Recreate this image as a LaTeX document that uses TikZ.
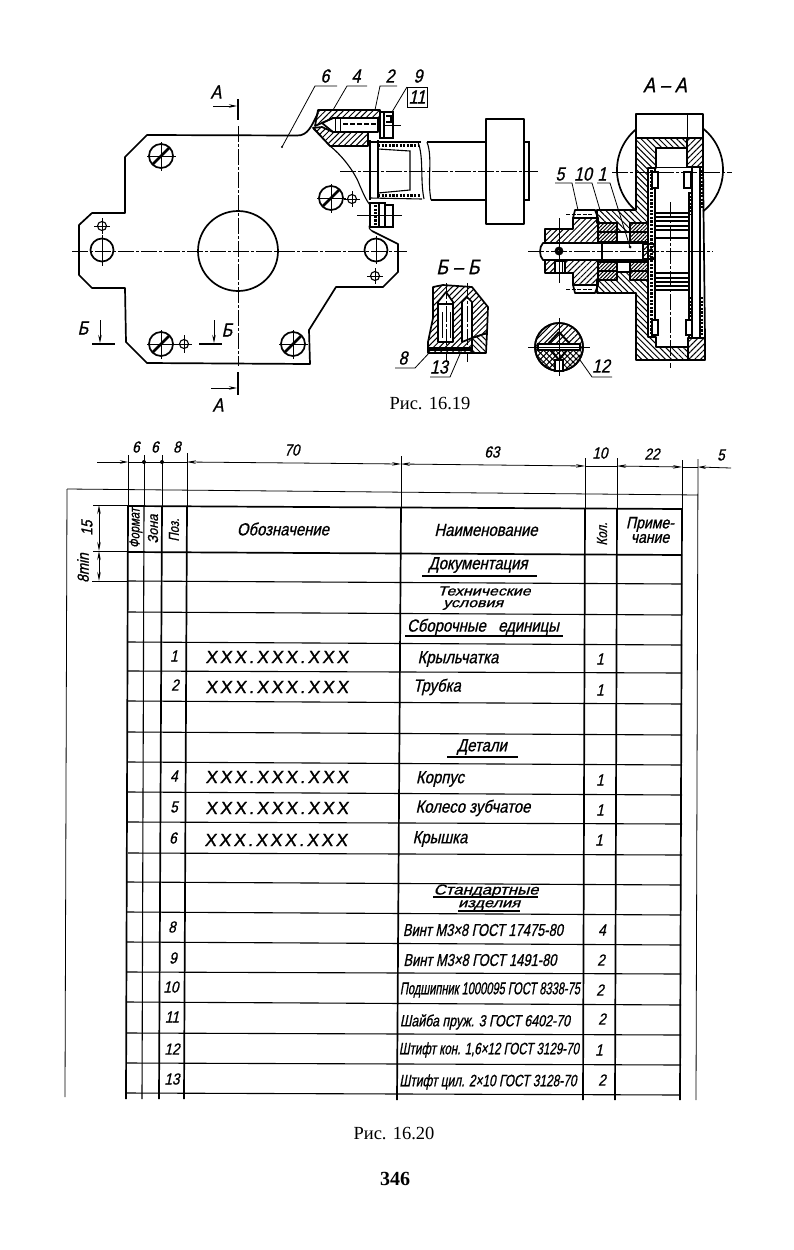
\documentclass[tikz,border=0pt]{standalone}
\usepackage{fontspec}
\usepackage{tikz}
\usetikzlibrary{arrows.meta,patterns.meta}
\setmainfont{Liberation Serif}
\newfontfamily\drawfont[FakeStretch=0.85,FakeSlant=0.22,FakeBold=0.9]{Liberation Sans}
\newfontfamily\xxxfont[LetterSpace=16,FakeSlant=0.12,FakeBold=1.3]{Liberation Sans}
\newcommand{\specline}[2]{\resizebox{#1pt}{12pt}{#2}}

\begin{document}
\begin{tikzpicture}[
    x=1pt, y=-1pt,
    outline/.style = {line width=1.7pt, line join=round},
    medline/.style = {line width=1.1pt},
    thinline/.style = {line width=0.8pt},
    centerline/.style = {line width=0.8pt, dash pattern=on 16pt off 2pt on 3pt off 2pt},
    cutmark/.style = {line width=2.6pt},
    slot/.style = {line width=2.8pt},
    arrow/.style = {-{Stealth[length=8pt,width=3.5pt]}, line width=0.8pt},
    dimline/.style = {{Stealth[length=9pt,width=3.5pt]}-{Stealth[length=9pt,width=3.5pt]}, line width=0.8pt},
    hatchl/.style = {pattern={Lines[angle=-45,distance=4.2pt,line width=1pt]}},
    hatchr/.style = {pattern={Lines[angle=45,distance=4.2pt,line width=1pt]}},
    hatchfine/.style = {pattern={Lines[angle=45,distance=2.6pt,line width=1pt]}},
    dotband/.style = {line width=3pt, dash pattern=on 2.2pt off 1.4pt},
    lab/.style = {font=\drawfont\fontsize{19}{19}\selectfont, inner sep=0pt},
    cell/.style = {font=\drawfont\fontsize{17.5}{17.5}\selectfont, inner sep=0pt},
    num/.style = {font=\drawfont\fontsize{16}{16}\selectfont, inner sep=0pt},
    xxx/.style = {font=\xxxfont\fontsize{17.5}{17.5}\selectfont, inner sep=0pt},
    caption/.style = {font=\fontsize{18.5}{18.5}\selectfont, inner sep=0pt}
]
\useasboundingbox (0,0) rectangle (794,1250);

% Plate outline
\draw[outline] (297,135.5) -- (147,135) -- (125,157) -- (125,213) -- (92,213) -- (79,225) -- (79,275) -- (92,288) -- (125,288) -- (126,342) -- (147,363) -- (310,364) -- (309,330) -- (336,287) -- (383,287) -- (398,272) -- (398,244) -- (372,231);
\draw[outline] (297,135.5) .. controls (308,136) and (312,125) .. (318,113);
\draw[medline] (313,127) -- (330,146) .. controls (345,158) and (356,175) .. (360,186) .. controls (364,195) and (366,200) .. (370,205);
\draw[medline] (370,224) .. controls (368,228) and (370,230) .. (372,231);

% Large holes
\draw[outline] (238,251) circle[radius=40];
\draw[outline] (102,250) circle[radius=11.5];
\draw[outline] (376,250) circle[radius=11.5];

% Slotted screws
\draw[outline] (161,156) circle[radius=12];
\draw[slot] (153,164) -- (169,148);
\draw[thinline] (147,156) -- (176,156) (161,142) -- (161,171);
\draw[outline] (161,344) circle[radius=12];
\draw[slot] (153,352) -- (169,336);
\draw[thinline] (147,344) -- (176,344) (161,330) -- (161,359);
\draw[outline] (293,344) circle[radius=12];
\draw[slot] (285,352) -- (301,336);
\draw[thinline] (279,344) -- (308,344) (293,330) -- (293,359);
\draw[outline] (331,198) circle[radius=12];
\draw[slot] (323,206) -- (339,190);
\draw[thinline] (317,198) -- (346,198) (331,184) -- (331,213);

% Small holes
\draw[medline] (102,226) circle[radius=4.5];
\draw[thinline] (94,226) -- (110,226) (102,218) -- (102,234);
\draw[medline] (375,276) circle[radius=4.5];
\draw[thinline] (367,276) -- (383,276) (375,268) -- (375,284);
\draw[medline] (352,199) circle[radius=4.5];
\draw[thinline] (344,199) -- (360,199) (352,191) -- (352,207);
\draw[medline] (184,344) circle[radius=4.5];
\draw[thinline] (176,344) -- (192,344) (184,335) -- (184,353);

% Center lines of the plate
\draw[centerline] (72,251) -- (407,251);
\draw[centerline] (238,126) -- (238,366);
\draw[thinline] (102,235) -- (102,266);
\draw[thinline] (376,236) -- (376,264);

% Section marks
\draw[cutmark] (238,99) -- (238,120);
\draw[cutmark] (238,372) -- (238,395);
\draw[cutmark] (92,344) -- (115,344);
\draw[cutmark] (199,344) -- (222,344);
\draw[arrow] (213,106) -- (237,106);
\draw[arrow] (211,388) -- (237,388);
\draw[arrow] (100,320) -- (100,343);
\draw[arrow] (214,320) -- (214,343);
\node[lab] (markAtop) at (216,92) {А};
\node[lab] (markAbot) at (218,405) {А};
\node[lab] (markBleft) at (83,328) {Б};
\node[lab] (markBright) at (227,330) {Б};

% Upper part of the local section
\draw[outline, hatchr] (318,110) -- (380,110) -- (380,118) -- (333,118) -- (322,123) -- (315,126) -- cycle;
\draw[outline, hatchr] (313,128) -- (322,127) -- (333,132) -- (368,132) -- (368,146) -- (330,146) -- cycle;
\draw[outline] (322,123) -- (333,118) -- (378,118) -- (378,132) -- (333,132) -- cycle;
\draw[thinline] (335,118) -- (335,132) (340,118) -- (340,132);
\draw[medline, dash pattern=on 5pt off 2pt] (343,124) -- (376,124);
\draw[medline] (380,112) rectangle (384,138);
\draw[medline] (384,112) rectangle (393,138);
\draw[thinline] (384,125) -- (401,125);
\draw[medline] (386,116) -- (391,116) -- (391,122) -- (386,122);

% Bearing cup and broken shaft
\draw[outline] (370,140) -- (370,200);
\draw[outline] (378,140) -- (378,198);
\draw[medline] (370,142) -- (421,142);
\draw[medline] (378,149) -- (410,151) -- (410,190) -- (378,193);
\draw[medline] (370,198) -- (422,199);
\draw[dotband, line width=2.2pt] (378,145.5) -- (418,145.5);
\draw[dotband, line width=2.2pt] (378,195.5) -- (420,195.5);
\draw[medline] (418,142) .. controls (424,158) and (420,180) .. (424,199);
\draw[medline] (427,142) .. controls (433,158) and (427,180) .. (431,200);
\draw[medline] (427,142) -- (486,142);
\draw[medline] (431,200) -- (486,200);
\draw[outline] (486,119) rectangle (524,224);
\draw[medline] (524,142) -- (529,142) -- (529,200) -- (524,200);
\draw[centerline] (340,171) -- (538,171);

% Lower screw of the local section
\draw[medline] (370,203) rectangle (379,227);
\draw[medline] (379,203) rectangle (385,227);
\draw[medline] (385,205) rectangle (393,227);
\draw[thinline] (357,215) -- (402,215);
\draw[dotband] (375,205) -- (375,225);

% Leaders, upper left view
\fill (282,147) circle[radius=1.2];
\draw[thinline] (282,147) -- (315,86) -- (337,86);
\draw[thinline] (333,110) -- (347,86) -- (367,86);
\draw[thinline] (375,110) -- (380,86) -- (397,86);
\draw[thinline] (392,112) -- (407,87);
\draw[thinline] (407,87) -- (427,87) -- (427,107) -- (407,107) -- cycle;
\node[lab] (pos6) at (325,76) {6};
\node[lab] (pos4) at (356,76) {4};
\node[lab] (pos2) at (390,76) {2};
\node[lab] (pos9) at (418,76) {9};
\node[lab] (pos11) at (417,97) {11};

% Section A-A, fan wheel arcs
\draw[outline] (635.9,129.4) arc[start angle=230, end angle=130, radius=53];
\draw[outline] (703,128.5) arc[start angle=-51.5, end angle=51.5, radius=53];
\node[lab, font=\drawfont\fontsize{21}{21}\selectfont] (titleAA) at (665,85) {А – А};

% Section A-A, body
\draw[outline] (636,138) -- (636,114) -- (703,114) -- (703,138);
\draw[thinline] (687,114) -- (687,138);
\draw[outline, hatchl] (636,138) -- (687,138) -- (687,148) -- (656,148) -- (656,168) -- (648,168) -- (648,223) -- (630,223) -- (630,232) -- (617,232) -- (617,223) -- (597,223) -- (597,210) -- (636,210) -- cycle;
\draw[outline, hatchr] (687,138) -- (703,138) -- (703,167) -- (687,167) -- cycle;
\draw[outline, hatchl] (597,280) -- (617,280) -- (617,272) -- (630,272) -- (630,280) -- (648,280) -- (648,337) -- (656,337) -- (656,347) -- (688,347) -- (688,360) -- (636,360) -- (636,293) -- (597,293) -- cycle;
\draw[outline, hatchr] (688,338) -- (705,338) -- (705,360) -- (688,360) -- cycle;
\draw[outline] (703,167) -- (705,338);

% Section A-A, inner strips
\draw[medline] (648,168) -- (648,337);
\draw[medline] (655,168) -- (655,337);
\draw[dotband] (651.5,170) -- (651.5,336);
\draw[medline] (689,192) -- (689,338);
\draw[medline] (692,167) -- (692,338);
\draw[medline] (700,167) -- (700,338);
\draw[dotband] (701.5,170) -- (701.5,208);
\draw[dotband] (701.5,297) -- (701.5,336);
\draw[dotband] (690.5,192) -- (690.5,215);
\draw[dotband] (690.5,297) -- (690.5,320);
\draw[medline, fill=white] (652,172) rectangle (658,188);
\draw[medline, fill=white] (652,320) rectangle (658,335);
\draw[medline, fill=white] (684,172) rectangle (691,188);
\draw[medline, fill=white] (686,320) rectangle (692,335);
\draw[thinline] (655,167) -- (703,167);

% Section A-A, gear plates
\draw[medline] (655,213) -- (688,213);
\draw[medline] (655,217) -- (688,217);
\draw[medline] (655,221) -- (688,221);
\draw[medline] (655,226) -- (688,226);
\draw[medline] (655,230) -- (688,230);
\draw[medline] (655,238) -- (688,238);
\draw[medline] (655,273) -- (688,273);
\draw[medline] (655,278) -- (688,278);
\draw[medline] (655,282) -- (688,282);
\draw[medline] (655,286) -- (688,286);
\draw[medline] (655,290) -- (688,290);

% Section A-A, bearings
\draw[outline, hatchfine] (598,223) rectangle (617,242);
\draw[outline, hatchfine] (630,223) rectangle (648,242);
\draw[outline, hatchfine] (598,262) rectangle (617,280);
\draw[outline, hatchfine] (630,262) rectangle (648,280);
\draw[line width=2pt] (598,232) -- (617,232) (630,232) -- (648,232) (598,271) -- (617,271) (630,271) -- (648,271);

% Section A-A, shaft and gear hub
\draw[outline, hatchr] (545,229) -- (573,229) -- (573,218) -- (598,218) -- (598,243) -- (545,243) -- cycle;
\draw[outline, hatchr] (545,260) -- (598,260) -- (598,285) -- (573,285) -- (573,273) -- (545,273) -- cycle;
\draw[medline, fill=white] (555,261) rectangle (565,273);
\draw[thinline] (559,262) -- (559,273) (562,262) -- (562,273);
\draw[outline] (573,218) -- (575,210) -- (595,210) -- (598,218);
\draw[outline] (573,285) -- (575,293) -- (595,293) -- (598,285);
\draw[thinline, dash pattern=on 4pt off 1.5pt] (566,214) -- (593,214);
\draw[thinline, dash pattern=on 4pt off 1.5pt] (566,289) -- (593,289);
\draw[outline] (648,243) -- (543,243) .. controls (539,247) and (539,256) .. (543,260) -- (648,260);
\draw[medline] (602,243) -- (602,260);
\draw[medline, hatchr] (643,244) rectangle (655,259);
\draw[medline] (618,242) -- (630,242) (617,262) -- (630,262);
\draw[line width=3.4pt] (559,251) circle[radius=2.6];
\draw[thinline] (559,218) -- (559,283);
\draw[centerline] (528,251) -- (713,251);
\draw[centerline] (612,172) -- (732,172);
\draw[centerline] (670,202) -- (670,368);

% Leaders, section A-A
\draw[thinline] (555,183) -- (572,183) -- (578,210);
\draw[thinline] (575,183) -- (592,183) -- (600,210);
\draw[thinline] (597,183) -- (610,183) -- (630,247);
\fill (630,247) circle[radius=1.5];
\node[lab] (pos5) at (560,174) {5};
\node[lab] (pos10) at (583,174) {10};
\node[lab] (pos1) at (602,174) {1};

% Section B-B
\node[lab, font=\drawfont\fontsize{21}{21}\selectfont] (titleBB) at (458,267) {Б – Б};
\draw[outline, hatchr] (433,287) -- (443,285) -- (472,287) -- (488,307) -- (487,333) -- (472,338) -- (472,353) -- (428,353) -- (428,342) -- (433,318) -- cycle;
\draw[outline, hatchl] (472,338) -- (487,333) -- (486,353) -- (472,353) -- cycle;
\draw[outline, fill=white] (438,342) -- (438,302) -- (446,292) -- (453,302) -- (453,342) -- cycle;
\draw[outline, fill=white] (462,342) -- (462,302) -- (467,297) -- (472,302) -- (472,338) -- cycle;
\draw[thinline] (442,312) -- (442,338) (450,312) -- (450,338);
\draw[line width=3.4pt] (428,349) -- (472,349);
\draw[medline] (438,304) -- (453,304);
\draw[centerline] (446,283) -- (446,362);
\draw[centerline] (467,283) -- (467,362);
\draw[thinline] (395,368) -- (415,368) -- (430,352);
\draw[thinline] (430,377) -- (450,377) -- (463,347);
\node[lab] (pos8) at (403,358) {8};
\node[lab] (pos13) at (439,367) {13};

% Section of the taper pin
\draw[outline, hatchr] (559,347) circle[radius=24];
\draw[medline, fill=white, hatchl] (535,347) arc[start angle=180, end angle=0, radius=24] -- cycle;
\draw[outline] (559,347) circle[radius=24];
\draw[medline, fill=white] (538,344) rectangle (580,350);
\draw[medline, fill=white] (555,360) rectangle (563,371);
\draw[line width=2pt] (559,332) -- (548,344) (559,332) -- (570,344) (551,350) -- (559,360) (567,350) -- (559,360);
\draw[thinline] (559,318) -- (559,376);
\draw[thinline] (528,347) -- (590,347);
\draw[thinline] (580,360) -- (592,377) -- (612,377);
\node[lab] (pos12) at (601,366) {12};

\node[caption] (figtop) at (430,404) {Рис. 16.19};

% Table, drawing frame
\draw[thinline] (67,489) -- (698,495);
\draw[thinline] (67,489) -- (65,1097);
\draw[thinline] (698,459) -- (696,1100);

% Table, extension lines
\draw[thinline] (128,455) -- (128,506);
\draw[thinline] (144,455) -- (144,506);
\draw[thinline] (162,455) -- (162,506);
\draw[thinline] (187,453) -- (187,506);
\draw[thinline] (401,456) -- (401,507);
\draw[thinline] (585,458) -- (585,508);
\draw[thinline] (617,458) -- (617,508);
\draw[thinline] (682,460) -- (682,509);

% Table, columns
\draw[outline] (128,506) -- (126,1099);
\draw[medline] (144,506) -- (142,1099);
\draw[outline] (162,506) -- (159,1099);
\draw[outline] (187,506) -- (184,1099);
\draw[outline] (401,507) -- (397,1100);
\draw[outline] (585,508) -- (583,1100);
\draw[outline] (617,508) -- (615,1100);
\draw[outline] (682,509) -- (680,1100);

% Table, rows
\draw[outline] (128,506) -- (682,509);
\draw[outline] (128,552) -- (682,555);
\draw[medline] (128,581) -- (682,584);
\draw[medline] (128,612) -- (682,615);
\draw[medline] (128,642) -- (682,645);
\draw[medline] (128,671) -- (682,673);
\draw[medline] (128,701) -- (682,704);
\draw[medline] (128,732) -- (682,735);
\draw[medline] (128,762) -- (682,765);
\draw[medline] (128,792) -- (682,795);
\draw[medline] (128,822) -- (682,824);
\draw[medline] (128,853) -- (682,855);
\draw[medline] (127,882) -- (681,885);
\draw[medline] (127,912) -- (681,915);
\draw[medline] (127,942) -- (681,945);
\draw[medline] (127,972) -- (681,974);
\draw[medline] (127,1002) -- (681,1005);
\draw[medline] (127,1033) -- (681,1035);
\draw[medline] (127,1063) -- (681,1065);
\draw[medline] (126,1093) -- (680,1095);

% Table, dimensions
\draw[arrow] (97,462) -- (128,462);
\draw[thinline] (128,462) -- (187,462);
\fill (144,462) circle[radius=2];
\fill (162,462) circle[radius=2];
\draw[dimline] (187,462) -- (401,464);
\draw[dimline] (401,464) -- (585,466);
\draw[thinline] (585,466) -- (617,466);
\draw[dimline] (617,466) -- (682,467);
\draw[thinline] (682,467) -- (698,467);
\draw[arrow] (731,468) -- (698,467);
\draw[thinline] (93,505) -- (128,505);
\draw[thinline] (93,551) -- (128,551);
\draw[thinline] (92,581) -- (128,581);
\draw[dimline] (99,505) -- (99,551);
\draw[dimline] (99,551) -- (99,581);
\node[num] (dim6a) at (136,447) {6};
\node[num] (dim6b) at (155,447) {6};
\node[num] (dim8) at (177,447) {8};
\node[num] (dim70) at (292,450) {70};
\node[num] (dim63) at (492,452) {63};
\node[num] (dim10) at (600,453) {10};
\node[num] (dim22) at (652,454) {22};
\node[num] (dim5) at (721,455) {5};
\node[num, rotate=90] (dim15) at (87,528) {15};
\node[num, rotate=90] (dim8min) at (83,568) {8min};

% Table, header
\node[cell, rotate=90] (headFormat) at (136,528) {\resizebox{40pt}{10pt}{Формат}};
\node[cell, rotate=90] (headZone) at (153,529) {\resizebox{29pt}{10pt}{Зона}};
\node[cell, rotate=90] (headPos) at (174,530) {\resizebox{23pt}{10pt}{Поз.}};
\node[cell] (headDesign) at (283,529) {Обозначение};
\node[cell] (headName) at (486,530) {Наименование};
\node[cell, rotate=90] (headQty) at (602,534) {\resizebox{23pt}{10pt}{Кол.}};
\node[cell, align=center, font=\drawfont\fontsize{16.5}{14.5}\selectfont] (headNote) at (650,530) {Приме-\\чание};

% Table, section names
\node[cell] (rowDocs) at (478,565) {Документация};
\draw[medline] (422,576) -- (537,576);
\node[cell] (rowSpecA) at (484,591) {\resizebox{93pt}{9pt}{Технические}};
\node[cell] (rowSpecB) at (473,605) {\resizebox{60pt}{7pt}{условия}};
\node[cell] (rowAssy) at (483,627) {Сборочные\ \ \ единицы};
\draw[medline] (405,636) -- (563,636);
\node[cell] (rowParts) at (482,747) {Детали};
\draw[medline] (447,757) -- (518,757);
\node[cell] (rowStdA) at (486,891) {\resizebox{105pt}{10pt}{Стандартные}};
\node[cell] (rowStdB) at (489,905) {\resizebox{62pt}{7pt}{изделия}};
\draw[medline] (433,897) -- (538,897);
\draw[medline] (458,911) -- (520,911);

% Table, positions
\node[num] (row1) at (174,656) {1};
\node[num] (row2) at (175,685) {2};
\node[num] (row4) at (174,776) {4};
\node[num] (row5) at (174,807) {5};
\node[num] (row6) at (173,838) {6};
\node[num] (row8) at (172,927) {8};
\node[num] (row9) at (173,958) {9};
\node[num] (row10) at (171,987) {10};
\node[num] (row11) at (172,1017) {11};
\node[num] (row12) at (172,1049) {12};
\node[num] (row13) at (172,1079) {13};

% Table, designations
\node[xxx] (code1) at (277,657) {XXX.XXX.XXX};
\node[xxx] (code2) at (277,687) {XXX.XXX.XXX};
\node[xxx] (code4) at (277,777) {XXX.XXX.XXX};
\node[xxx] (code5) at (277,808) {XXX.XXX.XXX};
\node[xxx] (code6) at (276,840) {XXX.XXX.XXX};

% Table, names
\node[cell] (nameWheel) at (458,659) {Крыльчатка};
\node[cell] (nameTube) at (437,687) {Трубка};
\node[cell] (nameBody) at (440,779) {Корпус};
\node[cell] (nameGear) at (473,808) {Колесо зубчатое};
\node[cell] (nameCover) at (440,839) {Крышка};
\node[cell] (nameScrewA) at (483,930) {\specline{160}{Винт М3×8 ГОСТ 17475-80}};
\node[cell] (nameScrewB) at (480,960) {\specline{153}{Винт М3×8 ГОСТ 1491-80}};
\node[cell] (nameBearing) at (490,990) {\specline{180}{Подшипник 1000095 ГОСТ 8338-75}};
\node[cell] (nameWasher) at (485,1022) {\specline{170}{Шайба пруж. 3 ГОСТ 6402-70}};
\node[cell] (namePinA) at (489,1050) {\specline{180}{Штифт кон. 1,6×12 ГОСТ 3129-70}};
\node[cell] (namePinB) at (488,1082) {\specline{177}{Штифт цил. 2×10 ГОСТ 3128-70}};

% Table, quantities
\node[num] (qty1) at (600,659) {1};
\node[num] (qty2) at (600,690) {1};
\node[num] (qty4) at (600,780) {1};
\node[num] (qty5) at (600,810) {1};
\node[num] (qty6) at (599,840) {1};
\node[num] (qty8) at (602,930) {4};
\node[num] (qty9) at (601,960) {2};
\node[num] (qty10) at (600,990) {2};
\node[num] (qty11) at (602,1019) {2};
\node[num] (qty12) at (599,1050) {1};
\node[num] (qty13) at (602,1080) {2};

\node[caption] (figbot) at (394,1133) {Рис. 16.20};
\node[caption, font=\bfseries\fontsize{20}{20}\selectfont] (pagenum) at (395,1179) {346};

\end{tikzpicture}
\end{document}
